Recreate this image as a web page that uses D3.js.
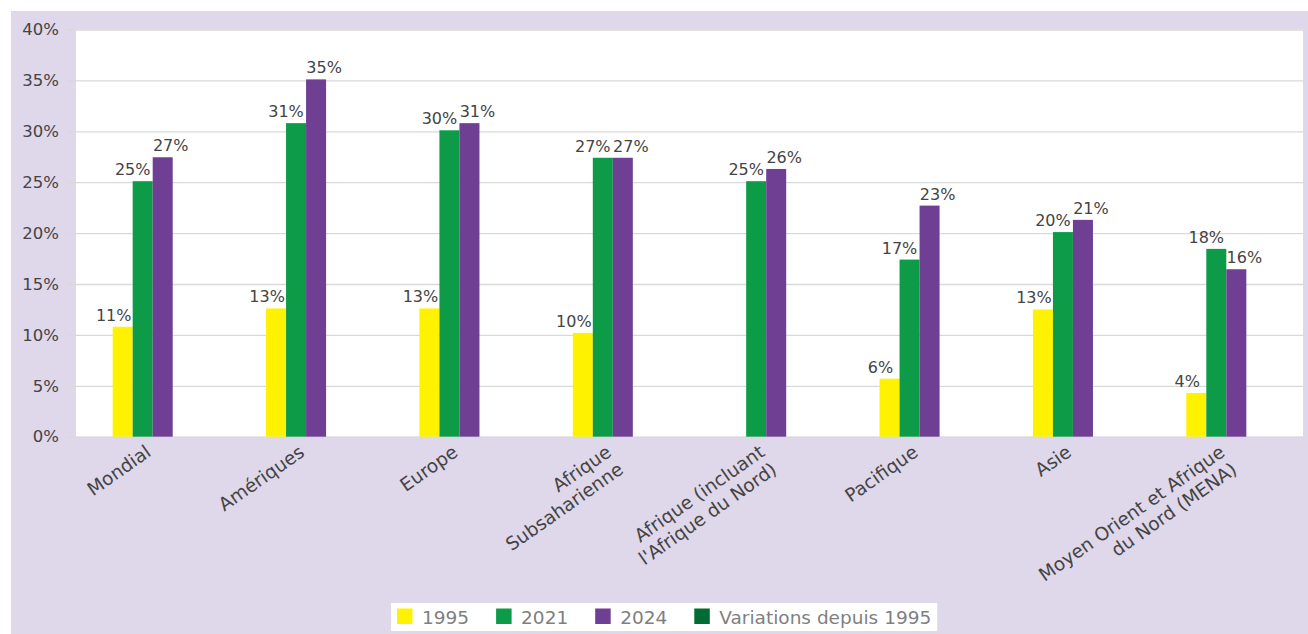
<!DOCTYPE html>
<html lang="fr">
<head>
<meta charset="utf-8">
<script src="https://cdn.jsdelivr.net/npm/d3@7"></script>
<style>
  html, body { margin: 0; padding: 0; background: #ffffff; }
  svg { display: block; font-family: "DejaVu Sans", "Noto Sans", sans-serif; }
</style>
</head>
<body>
<svg id="chart" width="1308" height="634"></svg>
<script>
// Régions (les retours à la ligne séparent les lignes d'étiquette)
const categories = [
  "Mondial",
  "Amériques",
  "Europe",
  "Afrique\nSubsaharienne",
  "Afrique (incluant\nl'Afrique du Nord)",
  "Pacifique",
  "Asie",
  "Moyen Orient et Afrique\ndu Nord (MENA)"
];

// Séries (en %)
const seriesNames = ["1995", "2021", "2024", "Variations depuis 1995"];
const values1995 = [10.8, 12.6, 12.6, 10.2, null, 5.7, 12.5, 4.3];
const values2021 = [25.1, 30.8, 30.1, 27.4, 25.1, 17.4, 20.1, 18.45];
const values2024 = [27.45, 35.1, 30.8, 27.4, 26.3, 22.7, 21.3, 16.45];
const valuesVariations = [null, null, null, null, null, null, null, null];

// Graduations de l'axe vertical
const yTicks = [0, 5, 10, 15, 20, 25, 30, 35, 40];

const seriesValues = {
  "1995": values1995,
  "2021": values2021,
  "2024": values2024,
  "Variations depuis 1995": valuesVariations
};
const colors = {
  "1995": "#fff200",
  "2021": "#0e9b48",
  "2024": "#6f3f94",
  "Variations depuis 1995": "#006b33"
};
// position horizontale de l'étiquette de valeur, en fraction de largeur de barre
const labelAnchor = { "1995": 0.05, "2021": 0, "2024": 0.9, "Variations depuis 1995": 0.5 };

const W = 1308, H = 634;
const plot = { left: 76, right: 1303, top: 29.5, bottom: 436.7 };
const textColor = "#444444";

const svg = d3.select("#chart");

// fond
svg.append("rect").attr("x", 0).attr("y", 0).attr("width", W).attr("height", H).attr("fill", "#ffffff");
svg.append("rect").attr("x", 11).attr("y", 11).attr("width", W - 11).attr("height", H - 11).attr("fill", "#dfd7ea");
svg.append("rect")
  .attr("x", plot.left).attr("y", plot.top)
  .attr("width", plot.right - plot.left).attr("height", plot.bottom - plot.top)
  .attr("fill", "#ffffff");

// échelles
const y = d3.scaleLinear().domain([0, 40]).range([plot.bottom, plot.top]);
const x0 = d3.scaleBand()
  .domain(d3.range(categories.length))
  .range([plot.left, plot.right])
  .paddingInner(0.478)
  .paddingOuter(0.239);
const x1 = d3.scaleBand().domain(seriesNames).range([0, x0.bandwidth()]);

// axe vertical + quadrillage
const tickStart = 68;
const yAxis = d3.axisLeft(y)
  .tickValues(yTicks)
  .tickSize(-(plot.right - tickStart))
  .tickPadding(9)
  .tickFormat(d => d + "%");
const gy = svg.append("g").attr("transform", `translate(${tickStart},0)`).call(yAxis);
gy.select(".domain").remove();
gy.selectAll(".tick line").attr("stroke", "#d9d9d9").attr("stroke-width", 1.3);
gy.selectAll(".tick text")
  .attr("fill", textColor)
  .style("font-family", "'DejaVu Sans', sans-serif")
  .style("font-size", "16.5px");

// barres
const groups = svg.append("g").selectAll("g")
  .data(categories.map((c, i) => i))
  .join("g")
  .attr("transform", i => `translate(${x0(i)},0)`);

const cells = groups.selectAll("g.cell")
  .data(i => seriesNames.map(k => ({ key: k, value: seriesValues[k][i] })).filter(d => d.value != null))
  .join("g").attr("class", "cell");

cells.append("rect")
  .attr("x", d => x1(d.key))
  .attr("y", d => y(d.value))
  .attr("width", x1.bandwidth())
  .attr("height", d => y(0) - y(d.value))
  .attr("fill", d => colors[d.key]);

cells.append("text")
  .attr("x", d => x1(d.key) + x1.bandwidth() * labelAnchor[d.key])
  .attr("y", d => y(d.value) - 6)
  .attr("text-anchor", "middle")
  .attr("fill", textColor)
  .style("font-size", "16px")
  .text(d => Math.round(d.value) + "%");

// étiquettes de catégories, inclinées
const catLabels = svg.append("g").selectAll("text")
  .data(categories.map((c, i) => ({ i, lines: c.split("\n") })))
  .join("text")
  .attr("transform", d => `translate(${x0(d.i) + x0.bandwidth() / 2 - 8},444) rotate(-35)`)
  .attr("text-anchor", "end")
  .attr("fill", textColor)
  .style("font-size", "18.5px");
catLabels.selectAll("tspan")
  .data(d => d.lines)
  .join("tspan")
  .attr("x", 0)
  .attr("dy", (l, j) => j === 0 ? "0.72em" : "1.15em")
  .text(l => l);

// légende
const legend = svg.append("g").attr("transform", "translate(391,603)");
const legendBox = legend.append("rect").attr("height", 28).attr("fill", "#ffffff");
let cursor = 6;
seriesNames.forEach(k => {
  legend.append("rect")
    .attr("x", cursor).attr("y", 5.5)
    .attr("width", 15.5).attr("height", 15.5)
    .attr("fill", colors[k]);
  const t = legend.append("text")
    .attr("x", cursor + 25).attr("y", 14)
    .attr("dy", "0.36em")
    .attr("fill", "#7f7f7f")
    .style("font-size", "18.5px")
    .text(k);
  cursor += 25 + t.node().getComputedTextLength() + 27;
});
legendBox.attr("width", cursor - 27 + 6);
</script>
</body>
</html>
